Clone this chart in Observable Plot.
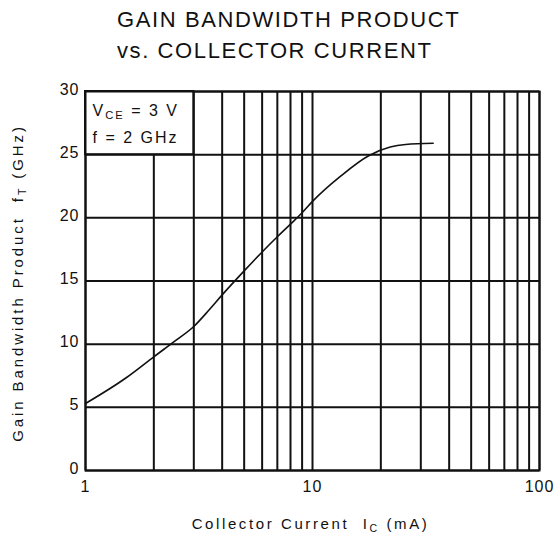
<!DOCTYPE html>
<html>
<head>
<meta charset="utf-8">
<script src="https://cdn.jsdelivr.net/npm/d3@7"></script>
<script src="https://cdn.jsdelivr.net/npm/@observablehq/plot@0.6"></script>
<style>
  html, body { margin: 0; padding: 0; background: #fff; }
  #title {
    height: 71px; padding-top: 4px; padding-left: 117px;
    font-family: "Liberation Sans", Arial, sans-serif; font-size: 22px;
    letter-spacing: 1.6px; line-height: 31px; color: #111; white-space: nowrap;
  }
  #chart svg { display: block; }
</style>
</head>
<body>
<div id="title">GAIN BANDWIDTH PRODUCT<br>vs. COLLECTOR CURRENT</div>
<div id="chart"></div>
<script>
// Data
const currents = [1, 1.5, 2, 2.5, 3, 3.5, 4, 5, 6, 7, 8, 9, 10, 13.3, 17.6, 22, 25.7, 34];
const gains    = [5.3, 7.3, 9.0, 10.3, 11.4, 12.7, 13.9, 15.8, 17.3, 18.5, 19.5, 20.4, 21.3, 23.3, 24.9, 25.6, 25.8, 25.9];
const xGrid = [1,2,3,4,5,6,7,8,9,10,20,30,40,50,60,70,80,90,100];
const yGrid = [0,5,10,15,20,25,30];
const xTickLabels = [1, 10, 100];
const yTickLabels = [0, 5, 10, 15, 20, 25, 30];
const conditionBox = [{x1: 1, x2: 3, y1: 25, y2: 30}];
const conditionLines = [{x: 1, y: 28.45, text: "V_{CE} = 3 V"}, {x: 1, y: 26.3, text: "f = 2 GHz"}];
const xLabel = "Collector Current  I_{C} (mA)";
const yLabel = "Gain Bandwidth Product  f_{T} (GHz)";

const curve = currents.map((c, i) => ({x: c, y: gains[i]}));
const font = "'Liberation Sans', Arial, sans-serif";

const chart = Plot.plot({
  width: 558,
  height: 471,
  marginLeft: 85,
  marginRight: 19,
  marginTop: 16,
  marginBottom: 76,
  style: {fontFamily: font, background: "#fff", color: "#111"},
  x: {type: "log", domain: [1, 100]},
  y: {domain: [0, 30]},
  marks: [
    Plot.ruleX(xGrid, {stroke: "#111", strokeWidth: 2}),
    Plot.ruleY(yGrid, {stroke: "#111", strokeWidth: 2}),
    Plot.rect(conditionBox, {x1: "x1", x2: "x2", y1: "y1", y2: "y2", fill: "#fff", stroke: "#111", strokeWidth: 2}),
    Plot.text(conditionLines, {x: "x", y: "y", text: "text", textAnchor: "start", dx: 7, fontSize: 16, fill: "#111", className: "cond"}),
    Plot.line(curve, {x: "x", y: "y", stroke: "#111", strokeWidth: 1.6, curve: "monotone-x"}),
    Plot.frame({stroke: "#111", strokeWidth: 2}),
    Plot.axisX(xTickLabels, {tickSize: 0, tickPadding: 10, fontSize: 16, label: null, tickFormat: d => String(d)}),
    Plot.axisY(yTickLabels, {tickSize: 0, tickPadding: 6, fontSize: 16, label: null, dy: -2}),
    Plot.text([xLabel], {frameAnchor: "bottom", textAnchor: "middle", dy: 58, dx: -2, fontSize: 15, fill: "#111", className: "xlab"}),
    Plot.text([yLabel], {frameAnchor: "left", textAnchor: "middle", dx: -67, dy: 2, rotate: -90, fontSize: 15, fill: "#111", className: "ylab"})
  ]
});

// Render subscripts written as _{...}
d3.select(chart).selectAll("text").each(function() {
  const t = this.textContent;
  if (!t.includes("_{")) return;
  const sel = d3.select(this);
  sel.text(null);
  const parts = t.split(/(_\{[^}]*\})/);
  let shifted = false;
  for (const p of parts) {
    if (!p) continue;
    if (p.startsWith("_{")) {
      sel.append("tspan").attr("font-size", "70%").attr("dy", "3").text(p.slice(2, -1));
      shifted = true;
    } else {
      const ts = sel.append("tspan").text(p);
      if (shifted) { ts.attr("dy", "-3"); shifted = false; }
    }
  }
});

d3.select(chart).selectAll("text").style("letter-spacing", "1px");
d3.select(chart).selectAll(".cond text").style("letter-spacing", "2px");
d3.select(chart).selectAll(".xlab text").style("letter-spacing", "2.6px");
d3.select(chart).selectAll(".ylab text").style("letter-spacing", "2.9px");
document.getElementById("chart").appendChild(chart);
</script>
</body>
</html>
